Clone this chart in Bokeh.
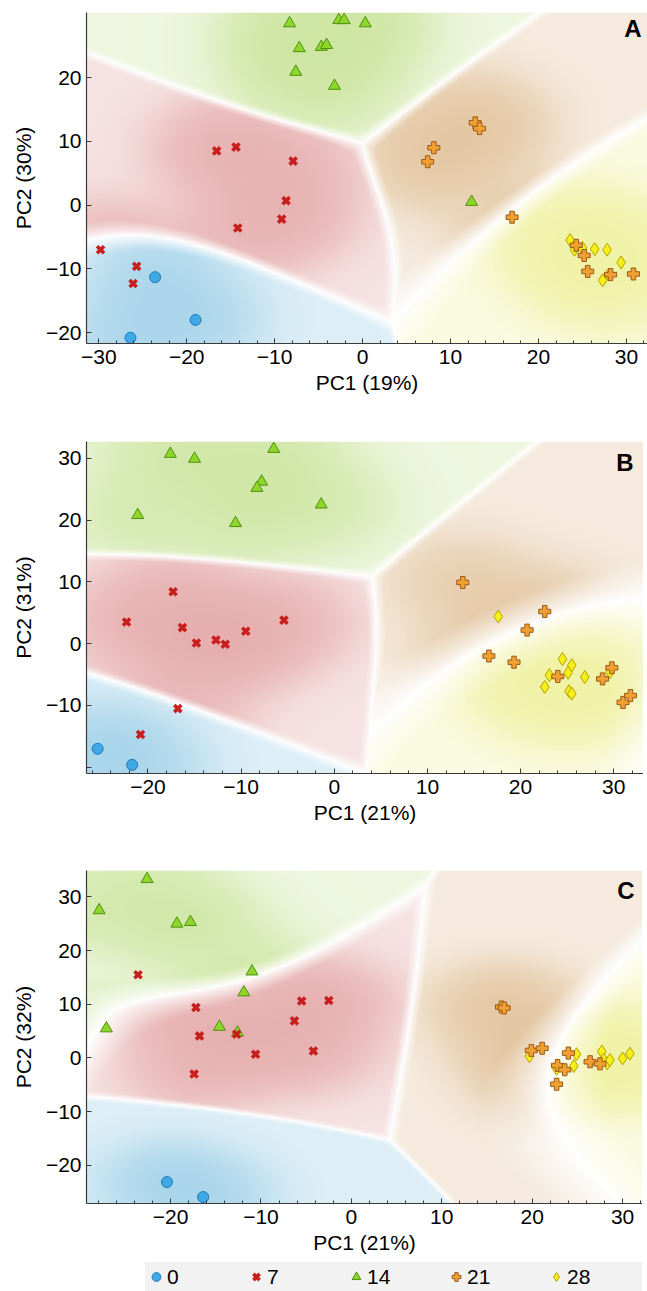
import numpy as np
from bokeh.plotting import figure
from bokeh.models import Range1d, FixedTicker, Label, Legend, LegendItem
from bokeh.layouts import column
from bokeh.embed import file_html
from bokeh.resources import INLINE

DAYS = ["0", "7", "14", "21", "28"]

# ---------------- Panel A ----------------
a_day0_pc1 = [-23.6, -19.0, -26.4]
a_day0_pc2 = [-11.3, -18.0, -20.8]
a_day7_pc1 = [-29.8, -25.7, -26.1, -16.6, -14.4, -7.9, -8.7, -9.2, -14.2]
a_day7_pc2 = [-7.0, -9.6, -12.3, 8.5, 9.1, 6.9, 0.7, -2.2, -3.6]
a_day14_pc1 = [-8.3, -7.2, -7.6, -4.7, -4.1, -2.7, -2.1, 0.3, -3.2, 12.4]
a_day14_pc2 = [28.5, 24.6, 20.9, 24.8, 25.1, 29.0, 29.0, 28.5, 18.7, 0.5]
a_day21_pc1 = [12.8, 13.3, 8.1, 7.4, 17.0, 24.3, 25.2, 25.6, 28.2, 30.8]
a_day21_pc2 = [12.9, 12.0, 9.0, 6.8, -1.9, -6.3, -7.9, -10.4, -10.9, -10.8]
a_day28_pc1 = [23.6, 24.1, 25.0, 26.4, 27.8, 29.4, 27.3, 28.0]
a_day28_pc2 = [-5.5, -7.0, -6.7, -6.9, -7.0, -9.0, -11.8, -10.9]

# ---------------- Panel B ----------------
b_day0_pc1 = [-25.4, -21.7]
b_day0_pc2 = [-17.0, -19.6]
b_day7_pc1 = [-22.3, -17.3, -16.3, -14.8, -12.7, -11.7, -9.5, -5.4, -16.8, -20.8]
b_day7_pc2 = [3.5, 8.4, 2.6, 0.1, 0.6, -0.1, 2.0, 3.8, -10.5, -14.7]
b_day14_pc1 = [-17.6, -15.0, -6.5, -7.8, -8.3, -21.1, -10.6, -1.4]
b_day14_pc2 = [30.7, 29.9, 31.5, 26.2, 25.2, 20.8, 19.5, 22.5]
b_day21_pc1 = [13.8, 22.6, 20.7, 16.6, 19.3, 24.0, 28.8, 29.8, 31.0, 31.8]
b_day21_pc2 = [9.9, 5.2, 2.2, -2.0, -3.0, -5.3, -5.7, -3.9, -9.5, -8.4]
b_day28_pc1 = [17.6, 24.5, 25.5, 25.1, 23.1, 22.6, 25.2, 25.5, 26.9, 29.6]
b_day28_pc2 = [4.4, -2.5, -3.5, -4.7, -5.1, -7.0, -7.7, -8.1, -5.4, -4.6]

# ---------------- Panel C ----------------
c_day0_pc1 = [-20.4, -16.4]
c_day0_pc2 = [-23.1, -25.9]
c_day7_pc1 = [-23.6, -17.2, -16.8, -17.4, -12.7, -10.6, -6.3, -5.5, -4.2, -2.5]
c_day7_pc2 = [15.5, 9.4, 4.1, -3.0, 4.4, 0.7, 6.9, 10.6, 1.3, 10.7]
c_day14_pc1 = [-22.6, -27.9, -19.3, -17.8, -11.0, -11.9, -14.6, -27.1, -12.6]
c_day14_pc2 = [33.3, 27.5, 25.0, 25.3, 16.1, 12.2, 5.8, 5.5, 4.7]
c_day21_pc1 = [16.6, 16.9, 19.9, 21.1, 24.0, 22.8, 23.6, 22.7, 26.4, 27.5]
c_day21_pc2 = [9.5, 9.3, 1.4, 1.8, 0.9, -1.4, -2.2, -4.9, -0.7, -1.1]
c_day28_pc1 = [19.7, 22.7, 24.9, 24.6, 27.7, 27.9, 28.3, 28.6, 30.0, 30.8]
c_day28_pc2 = [0.3, -2.0, 0.7, -1.5, 1.2, -0.3, -1.0, -0.4, -0.1, 0.8]

# ---------------- Styles ----------------
FONT = "Liberation Sans"
FILL = ["#3fa9e6", "#c81e1e", "#8ed62a", "#f0a030", "#f5ef1a"]
EDGE = ["#1f78b4", "#a01414", "#4f8f12", "#9a5a1a", "#b8a000"]
FIELD_RGB = np.array([(126, 192, 224), (222, 146, 146), (190, 222, 132),
                      (218, 178, 128), (236, 238, 140)], dtype=float)


def log_kde(groups, X, Y, h, mean=False):
    out = []
    for xs, ys in groups:
        xs = np.asarray(xs, float)[:, None, None]
        ys = np.asarray(ys, float)[:, None, None]
        q = -((X[None] - xs) ** 2 + (Y[None] - ys) ** 2) / (2 * h * h)
        m = q.max(0)
        v = m + np.log(np.exp(q - m).sum(0))
        if mean:
            v = v - np.log(len(xs))
        out.append(v)
    return np.stack(out)


def field_image(groups, xr, yr, nx, ny, h_dec=9.0, h_int=4.5):
    gx = np.linspace(xr[0], xr[1], nx)
    gy = np.linspace(yr[0], yr[1], ny)
    X, Y = np.meshgrid(gx, gy)
    L = log_kde(groups, X, Y, h_dec, mean=True)
    P = np.exp(L - L.max(0))
    P /= P.sum(0)
    Ps = np.sort(P, axis=0)
    margin = Ps[-1] - Ps[-2]
    k = P.argmax(0)
    Li = log_kde(groups, X, Y, h_int)
    dens = np.exp(np.take_along_axis(Li, k[None], 0)[0])
    near = dens / (dens + 0.6)
    edge = np.clip(margin / 0.12, 0, 1) ** 0.8
    a = edge * (0.26 + 0.54 * near)
    rgb = FIELD_RGB[k]
    out = 255.0 * (1 - a[..., None]) + rgb * a[..., None]
    img = np.empty((ny, nx, 4), dtype=np.uint8)
    img[..., :3] = np.clip(out, 0, 255).astype(np.uint8)
    img[..., 3] = 255
    return img.view(np.uint32).reshape(ny, nx)


def style_axes(p, xticks, yticks, xminor, xlabel, ylabel, yhide):
    for ax in (p.xaxis[0], p.yaxis[0]):
        ax.axis_line_color = "#3a3a3a"
        ax.axis_line_width = 1.2
        ax.major_tick_in = 5
        ax.major_tick_out = 0
        ax.minor_tick_in = 3
        ax.minor_tick_out = 0
        ax.major_tick_line_color = "#3a3a3a"
        ax.minor_tick_line_color = "#3a3a3a"
        ax.major_label_text_font = FONT
        ax.major_label_text_font_size = "21px"
        ax.major_label_text_color = "black"
        ax.axis_label_text_font = FONT
        ax.axis_label_text_font_size = "21px"
        ax.axis_label_text_font_style = "normal"
        ax.axis_label_text_color = "black"
    p.xaxis[0].major_label_standoff = 6
    p.yaxis[0].major_label_standoff = 5
    p.xaxis[0].ticker = FixedTicker(ticks=xticks, minor_ticks=xminor)
    p.yaxis[0].ticker = FixedTicker(ticks=yticks, minor_ticks=[])
    if yhide:
        p.yaxis[0].major_label_overrides = {t: "" for t in yhide}
    p.xaxis[0].axis_label = xlabel
    p.yaxis[0].axis_label = ylabel
    p.xaxis[0].axis_label_standoff = 4
    p.yaxis[0].axis_label_standoff = 8


def add_markers(p, groups):
    rend = [None] * 5
    xs, ys = groups[0]
    rend[0] = p.scatter(xs, ys, marker="circle", size=11,
                        fill_color=FILL[0], line_color=EDGE[0], line_width=1)
    xs, ys = groups[2]
    rend[2] = p.scatter(xs, ys, marker="triangle", size=12,
                        fill_color=FILL[2], line_color=EDGE[2], line_width=1)
    xs, ys = groups[1]
    rend[1] = p.scatter(xs, ys, marker="x", size=10,
                        line_color=FILL[1], line_width=3.6)
    xs, ys = groups[4]
    rend[4] = p.scatter(xs, ys, marker="diamond", size=13,
                        fill_color=FILL[4], line_color=EDGE[4], line_width=1)
    xs, ys = groups[3]
    rend[3] = p.scatter(xs, ys, marker="plus", size=12,
                        fill_color=FILL[3], line_color=EDGE[3], line_width=1)
    return rend


def make_panel(groups, xr, yr, xticks, yticks, xlabel, ylabel, letter,
               fw, fh, top, bottom, letter_dx, letter_dy, yhide=None):
    p = figure(frame_width=fw, frame_height=fh,
               x_range=Range1d(*xr), y_range=Range1d(*yr),
               output_backend="svg", toolbar_location=None,
               min_border_left=86, min_border_right=0,
               min_border_top=top, min_border_bottom=bottom,
               outline_line_color=None,
               background_fill_color="white", border_fill_color="white")
    p.grid.visible = False
    img = field_image(groups, xr, yr, fw, fh)
    p.image_rgba(image=[img], x=xr[0], y=yr[0],
                 dw=xr[1] - xr[0], dh=yr[1] - yr[0])
    xminor = list(np.arange(-40, 42, 2))
    style_axes(p, xticks, yticks, xminor, xlabel, ylabel, yhide)
    add_markers(p, groups)
    p.add_layout(Label(x=xr[1], y=yr[1], text=letter, text_align="right",
                       text_baseline="top", x_offset=letter_dx,
                       y_offset=letter_dy,
                       text_font=FONT, text_font_style="bold",
                       text_font_size="24px", text_color="black"))
    return p


groups_a = [(a_day0_pc1, a_day0_pc2), (a_day7_pc1, a_day7_pc2),
            (a_day14_pc1, a_day14_pc2), (a_day21_pc1, a_day21_pc2),
            (a_day28_pc1, a_day28_pc2)]
groups_b = [(b_day0_pc1, b_day0_pc2), (b_day7_pc1, b_day7_pc2),
            (b_day14_pc1, b_day14_pc2), (b_day21_pc1, b_day21_pc2),
            (b_day28_pc1, b_day28_pc2)]
groups_c = [(c_day0_pc1, c_day0_pc2), (c_day7_pc1, c_day7_pc2),
            (c_day14_pc1, c_day14_pc2), (c_day21_pc1, c_day21_pc2),
            (c_day28_pc1, c_day28_pc2)]

pA = make_panel(groups_a, (-31.4, 32.4), (-21.7, 30.2),
                [-30, -20, -10, 0, 10, 20, 30], [-20, -10, 0, 10, 20],
                "PC1 (19%)", "PC2 (30%)", "A", 561, 331, 12, 68, -6, -2)

pB = make_panel(groups_b, (-26.6, 33.2), (-21.0, 32.7),
                [-20, -10, 0, 10, 20, 30], [-20, -10, 0, 10, 20, 30],
                "PC1 (21%)", "PC2 (31%)", "B", 557, 332, 30, 67, -10, -7,
                yhide=[-20])

pC = make_panel(groups_c, (-29.3, 32.2), (-27.1, 34.9),
                [-20, -10, 0, 10, 20, 30], [-20, -10, 0, 10, 20, 30],
                "PC1 (21%)", "PC2 (32%)", "C", 556, 333, 30, 59, -8, -6)

# ---------------- Legend strip (markers kept outside its view) ----------------
pD = figure(frame_width=556, frame_height=29,
            x_range=Range1d(1000, 1001), y_range=Range1d(1000, 1001),
            output_backend="svg", toolbar_location=None,
            x_axis_location=None, y_axis_location=None,
            min_border_left=86, min_border_right=0,
            min_border_top=0, min_border_bottom=0,
            outline_line_color=None,
            background_fill_color="white", border_fill_color="white")
pD.grid.visible = False
rendD = add_markers(pD, groups_c)
legend = Legend(
    items=[LegendItem(label=DAYS[i], renderers=[rendD[i]]) for i in range(5)],
    orientation="horizontal", location=(59, 0),
    label_text_font=FONT, label_text_font_size="21px",
    label_text_color="black",
    glyph_width=22, glyph_height=29, label_standoff=0, label_width=78,
    label_height=29, spacing=0, padding=0, margin=0,
    background_fill_color="#f2f2f2", background_fill_alpha=1.0,
    border_line_color=None)
pD.add_layout(legend)

layout = column(pA, pB, pC, pD, spacing=0)
open("out.html", "w").write(file_html(layout, INLINE))
